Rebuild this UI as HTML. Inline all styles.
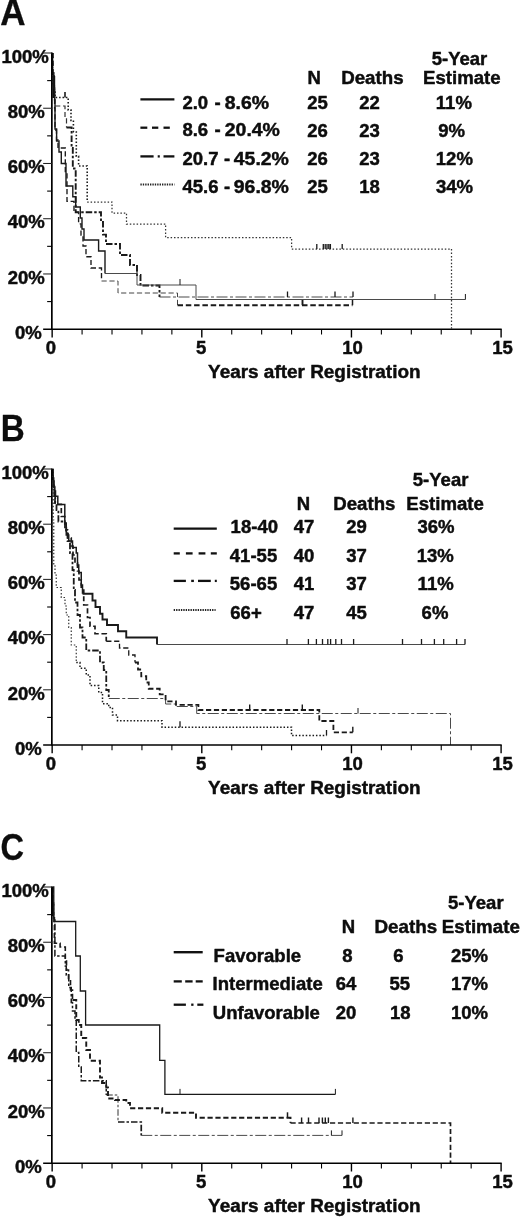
<!DOCTYPE html>
<html lang="en"><head><meta charset="utf-8"><title>Survival curves</title>
<style>html,body{margin:0;padding:0;background:#fff}svg{display:block}text{font-family:"Liberation Sans",Arial,Helvetica,sans-serif;font-weight:bold;fill:#0d0d0d;stroke:#0d0d0d;stroke-width:0.45px;stroke-linejoin:round}</style></head><body>
<svg width="520" height="1217" viewBox="0 0 520 1217">
<rect width="520" height="1217" fill="#fff"/>
<!-- panel A -->
<g id="panelA">
<text transform="translate(0.3,24.8) scale(1.0,1.03)" font-size="35" style="stroke-width:0.3px">A</text>
<text transform="translate(41.7,338.9) scale(1.03,0.99)" font-size="18" text-anchor="end" >0%</text>
<text transform="translate(44.8,283.7) scale(1.03,0.99)" font-size="18" text-anchor="end" >20%</text>
<text transform="translate(44.8,228.4) scale(1.03,0.99)" font-size="18" text-anchor="end" >40%</text>
<text transform="translate(44.8,173.2) scale(1.03,0.99)" font-size="18" text-anchor="end" >60%</text>
<text transform="translate(44.8,117.9) scale(1.03,0.99)" font-size="18" text-anchor="end" >80%</text>
<text transform="translate(48.8,62.7) scale(1.03,0.99)" font-size="18" text-anchor="end" >100%</text>
<text transform="translate(50.8,354.4) scale(1.03,0.99)" font-size="18" text-anchor="middle" >0</text>
<text transform="translate(201.2,354.4) scale(1.03,0.99)" font-size="18" text-anchor="middle" >5</text>
<text transform="translate(352.5,354.4) scale(1.03,0.99)" font-size="18" text-anchor="middle" >10</text>
<text transform="translate(502.5,354.4) scale(1.03,0.99)" font-size="18" text-anchor="middle" >15</text>
<text transform="translate(208.1,378.4) scale(1.052,0.99)" font-size="18" text-anchor="start" >Years after Registration</text>
<path d="M52.6,53H52.6V75H53.4V86H54.3V92H55V97.5H68.2V110H71V120.5H73.4V132H76.3V156.3H78.6V166H87.2V202" fill="none" stroke="#1a1a1a" stroke-width="1.6" stroke-dasharray="1.5 1.9"/>
<path d="M87.2,202H112V213H126.5V224H165.6V237.6H291.6V249H451.5V328.5" fill="none" stroke="#333" stroke-width="1.25" stroke-dasharray="1.5 1.9"/>
<path d="M65,97.5v-5.5" fill="none" stroke="#1a1a1a" stroke-width="1.6"/>
<path d="M316.8,249v-5M323.3,249v-5M325.2,249v-5M327,249v-5M328.8,249v-5M330.4,249v-5M342.2,249v-5" fill="none" stroke="#1a1a1a" stroke-width="1.3"/>

<path d="M52.8,53H52.8V74H53.5V84H54.2V95H54.8V106H65V117.7H66.5V127.5" fill="none" stroke="#333" stroke-width="1.2" stroke-dasharray="5.2 2.7"/>
<path d="M66.5,127.5H71.6V148H72.8V168.5H75.7V212.3H101V222H103V234.6H106V244H120V255H130V265H137V275H140.5V285.5H159.5V297" fill="none" stroke="#1a1a1a" stroke-width="1.9" stroke-dasharray="6.5 2 2.5 2"/>
<path d="M159.5,297H353" fill="none" stroke="#4a4a4a" stroke-width="1.05" stroke-dasharray="11 2.5 3 2.5"/>
<path d="M287.5,297v-5.5M335,297v-5.5M353,297v-5.5" fill="none" stroke="#1a1a1a" stroke-width="1.3"/>

<path d="M53,53H53V73H53.6V85H54.2V97H54.6V108H55V130H56.5V140H58V148H65.3V174H67V201.3H74V212.3H78.6V223.8H81V235H83V246H86V256.7H91V268H101.5V281" fill="none" stroke="#1a1a1a" stroke-width="1.35" stroke-dasharray="5.2 2.7"/>
<path d="M101.5,281H118V293H177.5V305.2" fill="none" stroke="#444" stroke-width="1.0" stroke-dasharray="5.2 2.7"/>
<path d="M177.5,305.2H352.5" fill="none" stroke="#1a1a1a" stroke-width="2.0" stroke-dasharray="5.5 2.8"/>
<path d="M302.5,305.2v-5.5" fill="none" stroke="#1a1a1a" stroke-width="1.9"/>
<path d="M352.5,305.2v-5.5" fill="none" stroke="#1a1a1a" stroke-width="1.5"/>

<path d="M52.4,73 L55.2,76 V98 H52.4Z" fill="#111"/>
<path d="M52.5,53H52.5V73H53.8V88H54.6V100H55V129H56.6V141H59V152H61.3V163.5H66V186H72.8V196.7H75.7V207H80.3V218H82V229H84V240H98.6V251H105V273.5" fill="none" stroke="#1a1a1a" stroke-width="1.4"/>
<path d="M105,273.5H137V285H196V299.5H465.4" fill="none" stroke="#4a4a4a" stroke-width="1.0"/>
<path d="M137,273.5v-8.5M180,285v-6M435,299.5v-5.5M465.4,299.5v-5.5" fill="none" stroke="#1a1a1a" stroke-width="1.0"/>

<line x1="51.85" y1="52.4" x2="51.85" y2="329.8" stroke="#000" stroke-width="1.7"/>
<line x1="43.15" y1="329.2" x2="501.7" y2="329.2" stroke="#000" stroke-width="1.4"/>
<line x1="47.15" y1="301.58" x2="52.15" y2="301.58" stroke="#000" stroke-width="1.1"/>
<line x1="43.15" y1="273.96" x2="52.15" y2="273.96" stroke="#222" stroke-width="1.05"/>
<line x1="47.15" y1="246.34" x2="52.15" y2="246.34" stroke="#000" stroke-width="1.1"/>
<line x1="43.15" y1="218.72" x2="52.15" y2="218.72" stroke="#222" stroke-width="1.05"/>
<line x1="47.15" y1="191.10" x2="52.15" y2="191.10" stroke="#000" stroke-width="1.1"/>
<line x1="43.15" y1="163.48" x2="52.15" y2="163.48" stroke="#222" stroke-width="1.05"/>
<line x1="47.15" y1="135.86" x2="52.15" y2="135.86" stroke="#000" stroke-width="1.1"/>
<line x1="43.15" y1="108.24" x2="52.15" y2="108.24" stroke="#222" stroke-width="1.05"/>
<line x1="47.15" y1="80.62" x2="52.15" y2="80.62" stroke="#000" stroke-width="1.1"/>
<line x1="43.15" y1="53.00" x2="52.15" y2="53.00" stroke="#222" stroke-width="1.05"/>
<line x1="52.15" y1="329.2" x2="52.15" y2="337.5" stroke="#000" stroke-width="1.4"/>
<line x1="82.08" y1="329.2" x2="82.08" y2="334.5" stroke="#000" stroke-width="1.1"/>
<line x1="112.01" y1="329.2" x2="112.01" y2="334.5" stroke="#000" stroke-width="1.1"/>
<line x1="141.94" y1="329.2" x2="141.94" y2="334.5" stroke="#000" stroke-width="1.1"/>
<line x1="171.87" y1="329.2" x2="171.87" y2="334.5" stroke="#000" stroke-width="1.1"/>
<line x1="201.80" y1="329.2" x2="201.80" y2="337.5" stroke="#000" stroke-width="1.4"/>
<line x1="231.73" y1="329.2" x2="231.73" y2="334.5" stroke="#000" stroke-width="1.1"/>
<line x1="261.66" y1="329.2" x2="261.66" y2="334.5" stroke="#000" stroke-width="1.1"/>
<line x1="291.59" y1="329.2" x2="291.59" y2="334.5" stroke="#000" stroke-width="1.1"/>
<line x1="321.52" y1="329.2" x2="321.52" y2="334.5" stroke="#000" stroke-width="1.1"/>
<line x1="351.45" y1="329.2" x2="351.45" y2="337.5" stroke="#000" stroke-width="1.4"/>
<line x1="381.38" y1="329.2" x2="381.38" y2="334.5" stroke="#000" stroke-width="1.1"/>
<line x1="411.31" y1="329.2" x2="411.31" y2="334.5" stroke="#000" stroke-width="1.1"/>
<line x1="441.24" y1="329.2" x2="441.24" y2="334.5" stroke="#000" stroke-width="1.1"/>
<line x1="471.17" y1="329.2" x2="471.17" y2="334.5" stroke="#000" stroke-width="1.1"/>
<line x1="501.10" y1="329.2" x2="501.10" y2="337.5" stroke="#000" stroke-width="1.4"/>
<line x1="140.4" y1="99.4" x2="174.4" y2="99.4" stroke="#111" stroke-width="2.4"/>
<line x1="140.4" y1="127.7" x2="147.3" y2="127.7" stroke="#111" stroke-width="2.3"/><line x1="152" y1="127.7" x2="158.3" y2="127.7" stroke="#111" stroke-width="2.3"/><line x1="163.5" y1="127.7" x2="169.8" y2="127.7" stroke="#111" stroke-width="2.3"/>
<line x1="140.4" y1="156.4" x2="153.6" y2="156.4" stroke="#111" stroke-width="2.3"/><line x1="157.7" y1="156.4" x2="159.8" y2="156.4" stroke="#111" stroke-width="2.3"/><line x1="163.5" y1="156.4" x2="174.4" y2="156.4" stroke="#111" stroke-width="2.3"/>
<line x1="140.4" y1="184.5" x2="174.4" y2="184.5" stroke="#222" stroke-width="2" stroke-dasharray="1.35 1.05"/>
<text transform="translate(182.4,108.75) scale(1.03,0.99)" font-size="18" text-anchor="start" >2.0</text><text transform="translate(214.6,108.75) scale(1.03,0.99)" font-size="18" text-anchor="start" >-</text><text transform="translate(224.8,108.75) scale(1.08,0.99)" font-size="18" text-anchor="start" >8.6%</text>
<text transform="translate(182.4,136.25) scale(1.03,0.99)" font-size="18" text-anchor="start" >8.6</text><text transform="translate(214.6,136.25) scale(1.03,0.99)" font-size="18" text-anchor="start" >-</text><text transform="translate(224.8,136.25) scale(1.08,0.99)" font-size="18" text-anchor="start" >20.4%</text>
<text transform="translate(182.4,164.5) scale(1.03,0.99)" font-size="18" text-anchor="start" >20.7</text><text transform="translate(224,164.5) scale(1.03,0.99)" font-size="18" text-anchor="start" >-</text><text transform="translate(233.8,164.5) scale(1.08,0.99)" font-size="18" text-anchor="start" >45.2%</text>
<text transform="translate(182.4,192.5) scale(1.03,0.99)" font-size="18" text-anchor="start" >45.6</text><text transform="translate(224,192.5) scale(1.03,0.99)" font-size="18" text-anchor="start" >-</text><text transform="translate(233.8,192.5) scale(1.08,0.99)" font-size="18" text-anchor="start" >96.8%</text>
<text transform="translate(307.4,84) scale(1.03,0.99)" font-size="18" text-anchor="start" >N</text>
<text transform="translate(341.2,84) scale(1.04,0.99)" font-size="18" text-anchor="start" >Deaths</text>
<text transform="translate(431.7,65.4) scale(1.03,0.99)" font-size="18" text-anchor="start" >5-Year</text>
<text transform="translate(423,84) scale(1.035,0.99)" font-size="18" text-anchor="start" >Estimate</text>
<text transform="translate(307.2,108.75) scale(1.03,0.99)" font-size="18" text-anchor="start" >25</text>
<text transform="translate(359.2,108.75) scale(1.03,0.99)" font-size="18" text-anchor="start" >22</text>
<text transform="translate(435.8,108.75) scale(1.03,0.99)" font-size="18" text-anchor="start" >11%</text>
<text transform="translate(307.2,136.6) scale(1.03,0.99)" font-size="18" text-anchor="start" >26</text>
<text transform="translate(359.2,136.6) scale(1.03,0.99)" font-size="18" text-anchor="start" >23</text>
<text transform="translate(438.2,136.6) scale(1.03,0.99)" font-size="18" text-anchor="start" >9%</text>
<text transform="translate(307.2,164.5) scale(1.03,0.99)" font-size="18" text-anchor="start" >26</text>
<text transform="translate(359.2,164.5) scale(1.03,0.99)" font-size="18" text-anchor="start" >23</text>
<text transform="translate(435.8,164.5) scale(1.03,0.99)" font-size="18" text-anchor="start" >12%</text>
<text transform="translate(307.2,192.5) scale(1.03,0.99)" font-size="18" text-anchor="start" >25</text>
<text transform="translate(359.2,192.5) scale(1.03,0.99)" font-size="18" text-anchor="start" >18</text>
<text transform="translate(436,192.5) scale(1.03,0.99)" font-size="18" text-anchor="start" >34%</text>
</g>
<!-- panel B -->
<g id="panelB">
<text transform="translate(0.7,440.5) scale(0.95,1.03)" font-size="35" style="stroke-width:0.3px">B</text>
<text transform="translate(41.7,754.7) scale(1.03,0.99)" font-size="18" text-anchor="end" >0%</text>
<text transform="translate(44.8,699.5) scale(1.03,0.99)" font-size="18" text-anchor="end" >20%</text>
<text transform="translate(44.8,644.3) scale(1.03,0.99)" font-size="18" text-anchor="end" >40%</text>
<text transform="translate(44.8,589.1) scale(1.03,0.99)" font-size="18" text-anchor="end" >60%</text>
<text transform="translate(44.8,533.9) scale(1.03,0.99)" font-size="18" text-anchor="end" >80%</text>
<text transform="translate(48.8,478.7) scale(1.03,0.99)" font-size="18" text-anchor="end" >100%</text>
<text transform="translate(50.8,770.2) scale(1.03,0.99)" font-size="18" text-anchor="middle" >0</text>
<text transform="translate(201.2,770.2) scale(1.03,0.99)" font-size="18" text-anchor="middle" >5</text>
<text transform="translate(352.5,770.2) scale(1.03,0.99)" font-size="18" text-anchor="middle" >10</text>
<text transform="translate(502.5,770.2) scale(1.03,0.99)" font-size="18" text-anchor="middle" >15</text>
<text transform="translate(208.1,794.2) scale(1.052,0.99)" font-size="18" text-anchor="start" >Years after Registration</text>
<path d="M52.6,469H53.2V520H53.75V565H55V575H56.25V587.5H61.25V597.5H65V606H66.25V615H68.75V627.5H71.25V645H76.25V662.5" fill="none" stroke="#333" stroke-width="1.2" stroke-dasharray="1.5 1.9"/>
<path d="M76.25,662.5H80V668.25H86.25V675H90V685.5H98.75V692.5H102.5V703.75H108.75V707.5H112.5V715H117.5V720.7H162V727.2H291.5V735.6H326.5" fill="none" stroke="#1a1a1a" stroke-width="1.5" stroke-dasharray="1.5 1.9"/>
<path d="M180,727.2v-6M326.5,735.6v-5.5" fill="none" stroke="#1a1a1a" stroke-width="1.3"/>

<path d="M52.7,469H52.7V480H53.5V488H54.3V496H55.2V503H56.5V510H58.4V521.5H65V530H67.5V541H70V553H72.5V570H73.75V590H75V602.5H77.5V615H80V627.5H82.5V637.5H86.25V650.5H100V662.5H103.75V670H106.25V690H108.75V698.5" fill="none" stroke="#1a1a1a" stroke-width="1.8" stroke-dasharray="6.5 2 2.5 2"/>
<path d="M108.75,698.5H165.6V704H176V706.5H196.7V713.5H450.5V745" fill="none" stroke="#4a4a4a" stroke-width="1.0" stroke-dasharray="11 2.5 3 2.5"/>
<path d="M358,713.5v-5.5" fill="none" stroke="#1a1a1a" stroke-width="1.0"/>

<path d="M52.9,469H52.9V478H53.6V486H54.3V493H55V504.4H61.3V516.5H64.8V524H66.3V531H68V538H71.25V546H73V555H75V563H77.5V571H79V580H81.25V590H83.75V605H87.5V617.5H90V626.25H95V633.75H106.25V641.25" fill="none" stroke="#1a1a1a" stroke-width="1.7" stroke-dasharray="5.2 2.7"/>
<path d="M106.25,641.25H119.5V648H128.75V655H135V662.5" fill="none" stroke="#1a1a1a" stroke-width="1.3" stroke-dasharray="5.2 2.7"/>
<path d="M135,662.5H138V669.5H141.25V676.25H146.25V682.5H148.75V688.75H159.7V694.4H165.6V701.3H176V704.8H198.4V710H319.3V721H333.4V732.3H352.8" fill="none" stroke="#1a1a1a" stroke-width="1.8" stroke-dasharray="5.2 2.7"/>
<path d="M249.7,710v-5.5M302.3,710v-5.5M352.8,732.3v-5.5" fill="none" stroke="#1a1a1a" stroke-width="1.4"/>

<path d="M52.5,469H52.5V475H53.2V481H54V487H54.8V491H55.5V496.3H57.8V504.4H64.8V523H66.25V535H68.75V541H72.5V547.5H76.25V553H77.5V565H78.75V572.5H81.25V585H82.5V593.75" fill="none" stroke="#1a1a1a" stroke-width="1.5"/>
<path d="M82.5,593.75H92.5V600.5H95.5V607H100V613.75H102.5V619.5H107V625H118V631.25H126.25V637.5H157V644.5" fill="none" stroke="#1a1a1a" stroke-width="1.9"/>
<path d="M157,644.5H465" fill="none" stroke="#4a4a4a" stroke-width="1.0"/>
<path d="M287,644.5v-5.5M308.4,644.5v-5.5M316.4,644.5v-5.5M322.5,644.5v-5.5M327.8,644.5v-5.5M330.6,644.5v-5.5M335.8,644.5v-5.5M341.5,644.5v-5.5M353.6,644.5v-5.5M402.5,644.5v-5.5M421.5,644.5v-5.5M434.4,644.5v-5.5M443.7,644.5v-5.5M456.6,644.5v-5.5M465,644.5v-5.5" fill="none" stroke="#1a1a1a" stroke-width="1.3"/>

<line x1="51.85" y1="468.4" x2="51.85" y2="745.6" stroke="#000" stroke-width="1.7"/>
<line x1="43.15" y1="745" x2="501.7" y2="745" stroke="#000" stroke-width="1.4"/>
<line x1="47.15" y1="717.40" x2="52.15" y2="717.40" stroke="#000" stroke-width="1.1"/>
<line x1="43.15" y1="689.80" x2="52.15" y2="689.80" stroke="#222" stroke-width="1.05"/>
<line x1="47.15" y1="662.20" x2="52.15" y2="662.20" stroke="#000" stroke-width="1.1"/>
<line x1="43.15" y1="634.60" x2="52.15" y2="634.60" stroke="#222" stroke-width="1.05"/>
<line x1="47.15" y1="607.00" x2="52.15" y2="607.00" stroke="#000" stroke-width="1.1"/>
<line x1="43.15" y1="579.40" x2="52.15" y2="579.40" stroke="#222" stroke-width="1.05"/>
<line x1="47.15" y1="551.80" x2="52.15" y2="551.80" stroke="#000" stroke-width="1.1"/>
<line x1="43.15" y1="524.20" x2="52.15" y2="524.20" stroke="#222" stroke-width="1.05"/>
<line x1="47.15" y1="496.60" x2="52.15" y2="496.60" stroke="#000" stroke-width="1.1"/>
<line x1="43.15" y1="469.00" x2="52.15" y2="469.00" stroke="#222" stroke-width="1.05"/>
<line x1="52.15" y1="745" x2="52.15" y2="753.3" stroke="#000" stroke-width="1.4"/>
<line x1="82.08" y1="745" x2="82.08" y2="750.3" stroke="#000" stroke-width="1.1"/>
<line x1="112.01" y1="745" x2="112.01" y2="750.3" stroke="#000" stroke-width="1.1"/>
<line x1="141.94" y1="745" x2="141.94" y2="750.3" stroke="#000" stroke-width="1.1"/>
<line x1="171.87" y1="745" x2="171.87" y2="750.3" stroke="#000" stroke-width="1.1"/>
<line x1="201.80" y1="745" x2="201.80" y2="753.3" stroke="#000" stroke-width="1.4"/>
<line x1="231.73" y1="745" x2="231.73" y2="750.3" stroke="#000" stroke-width="1.1"/>
<line x1="261.66" y1="745" x2="261.66" y2="750.3" stroke="#000" stroke-width="1.1"/>
<line x1="291.59" y1="745" x2="291.59" y2="750.3" stroke="#000" stroke-width="1.1"/>
<line x1="321.52" y1="745" x2="321.52" y2="750.3" stroke="#000" stroke-width="1.1"/>
<line x1="351.45" y1="745" x2="351.45" y2="753.3" stroke="#000" stroke-width="1.4"/>
<line x1="381.38" y1="745" x2="381.38" y2="750.3" stroke="#000" stroke-width="1.1"/>
<line x1="411.31" y1="745" x2="411.31" y2="750.3" stroke="#000" stroke-width="1.1"/>
<line x1="441.24" y1="745" x2="441.24" y2="750.3" stroke="#000" stroke-width="1.1"/>
<line x1="471.17" y1="745" x2="471.17" y2="750.3" stroke="#000" stroke-width="1.1"/>
<line x1="501.10" y1="745" x2="501.10" y2="753.3" stroke="#000" stroke-width="1.4"/>
<line x1="173.7" y1="528.6" x2="216.8" y2="528.6" stroke="#111" stroke-width="2.4"/>
<line x1="173.7" y1="553.4" x2="179.8" y2="553.4" stroke="#111" stroke-width="2.3"/><line x1="185.9" y1="553.4" x2="192.6" y2="553.4" stroke="#111" stroke-width="2.3"/><line x1="198.6" y1="553.4" x2="205.4" y2="553.4" stroke="#111" stroke-width="2.3"/><line x1="210.8" y1="553.4" x2="216.8" y2="553.4" stroke="#111" stroke-width="2.3"/>
<line x1="173.7" y1="580.9" x2="185.9" y2="580.9" stroke="#111" stroke-width="2.3"/><line x1="191.2" y1="580.9" x2="193.9" y2="580.9" stroke="#111" stroke-width="2.3"/><line x1="198" y1="580.9" x2="210.8" y2="580.9" stroke="#111" stroke-width="2.3"/><line x1="214.8" y1="580.9" x2="216.8" y2="580.9" stroke="#111" stroke-width="2.3"/>
<line x1="173.7" y1="609.9" x2="215.6" y2="609.9" stroke="#222" stroke-width="2" stroke-dasharray="1.35 1.05"/>
<text transform="translate(230.6,533.3) scale(1.03,0.99)" font-size="18" text-anchor="start" >18-40</text>
<text transform="translate(293.8,533.3) scale(1.03,0.99)" font-size="18" text-anchor="start" >47</text>
<text transform="translate(346.3,533.3) scale(1.03,0.99)" font-size="18" text-anchor="start" >29</text>
<text transform="translate(417.4,533.3) scale(1.03,0.99)" font-size="18" text-anchor="start" >36%</text>
<text transform="translate(229.8,562) scale(1.03,0.99)" font-size="18" text-anchor="start" >41-55</text>
<text transform="translate(293.8,562) scale(1.03,0.99)" font-size="18" text-anchor="start" >40</text>
<text transform="translate(346.3,562) scale(1.03,0.99)" font-size="18" text-anchor="start" >37</text>
<text transform="translate(416.7,562) scale(1.03,0.99)" font-size="18" text-anchor="start" >13%</text>
<text transform="translate(229.8,590) scale(1.03,0.99)" font-size="18" text-anchor="start" >56-65</text>
<text transform="translate(293.8,590) scale(1.03,0.99)" font-size="18" text-anchor="start" >41</text>
<text transform="translate(346.3,590) scale(1.03,0.99)" font-size="18" text-anchor="start" >37</text>
<text transform="translate(417.6,590) scale(1.03,0.99)" font-size="18" text-anchor="start" >11%</text>
<text transform="translate(230.3,619.2) scale(1.03,0.99)" font-size="18" text-anchor="start" >66+</text>
<text transform="translate(293.8,619.2) scale(1.03,0.99)" font-size="18" text-anchor="start" >47</text>
<text transform="translate(346.3,619.2) scale(1.03,0.99)" font-size="18" text-anchor="start" >45</text>
<text transform="translate(421.6,619.2) scale(1.03,0.99)" font-size="18" text-anchor="start" >6%</text>
<text transform="translate(296.8,509.7) scale(1.03,0.99)" font-size="18" text-anchor="start" >N</text>
<text transform="translate(333.3,510) scale(1.035,0.99)" font-size="18" text-anchor="start" >Deaths</text>
<text transform="translate(412.8,486) scale(1.03,0.99)" font-size="18" text-anchor="start" >5-Year</text>
<text transform="translate(406.3,510.2) scale(1.035,0.99)" font-size="18" text-anchor="start" >Estimate</text>
</g>
<!-- panel C -->
<g id="panelC">
<text transform="translate(0.4,859.6) scale(0.93,1.03)" font-size="35" style="stroke-width:0.3px">C</text>
<text transform="translate(41.7,1172.9) scale(1.03,0.99)" font-size="18" text-anchor="end" >0%</text>
<text transform="translate(44.8,1117.7) scale(1.03,0.99)" font-size="18" text-anchor="end" >20%</text>
<text transform="translate(44.8,1062.4) scale(1.03,0.99)" font-size="18" text-anchor="end" >40%</text>
<text transform="translate(44.8,1007.2) scale(1.03,0.99)" font-size="18" text-anchor="end" >60%</text>
<text transform="translate(44.8,951.9) scale(1.03,0.99)" font-size="18" text-anchor="end" >80%</text>
<text transform="translate(48.8,896.7) scale(1.03,0.99)" font-size="18" text-anchor="end" >100%</text>
<text transform="translate(50.8,1188.4) scale(1.03,0.99)" font-size="18" text-anchor="middle" >0</text>
<text transform="translate(201.2,1188.4) scale(1.03,0.99)" font-size="18" text-anchor="middle" >5</text>
<text transform="translate(352.5,1188.4) scale(1.03,0.99)" font-size="18" text-anchor="middle" >10</text>
<text transform="translate(502.5,1188.4) scale(1.03,0.99)" font-size="18" text-anchor="middle" >15</text>
<text transform="translate(208.1,1212.4) scale(1.052,0.99)" font-size="18" text-anchor="start" >Years after Registration</text>
<path d="M52.7,887H52.7V905H53.6V918H54.9V956.1H65.3V966H66.25V975H68.75V987.5H71.25V1002.5H72.5V1011H75V1020H76.25V1052.5H78.75V1067H81.25V1080.8H106.25V1095" fill="none" stroke="#1a1a1a" stroke-width="1.5" stroke-dasharray="6.5 2 2.5 2"/>
<path d="M106.25,1095H118V1122" fill="none" stroke="#333" stroke-width="1.0" stroke-dasharray="6.5 2 2.5 2"/>
<path d="M118,1122H141.25V1135.4" fill="none" stroke="#1a1a1a" stroke-width="1.7" stroke-dasharray="6.5 2 2.5 2"/>
<path d="M141.25,1135.4H342" fill="none" stroke="#4a4a4a" stroke-width="1.0" stroke-dasharray="11 2.5 3 2.5"/>
<path d="M331.4,1135.4v-5M342,1135.4v-5" fill="none" stroke="#1a1a1a" stroke-width="1.0"/>

<path d="M52.9,887H52.9V900H53.5V915H54.4V943.2H60.1V947H65.3V960H66.5V970H68.5V980H70.5V990H72.5V1000" fill="none" stroke="#1a1a1a" stroke-width="1.6" stroke-dasharray="5.2 2.7"/>
<path d="M72.5,1000H76.25V1020H78.75V1025H81.25V1038H86.25V1050H90V1060.75H100V1077.5H102V1083H106.25V1087.5H108V1098.5H115V1100H126.25V1103H130V1108.3H162.2V1112.7H196V1117.8H290.5V1123" fill="none" stroke="#1a1a1a" stroke-width="1.9" stroke-dasharray="5.2 2.7"/>
<path d="M290.5,1123H450.5V1163.2" fill="none" stroke="#1a1a1a" stroke-width="1.7" stroke-dasharray="5.2 2.7"/>
<path d="M287.5,1117.8v-5.5" fill="none" stroke="#1a1a1a" stroke-width="1.5"/>
<path d="M301.6,1123v-5.5M308.5,1123v-5.5M319,1123v-5.5M322.4,1123v-5.5M325.3,1123v-5.5M328.4,1123v-5.5M352.9,1123v-5.5" fill="none" stroke="#1a1a1a" stroke-width="1.4"/>

<path d="M51.6,887 H53.5 V916 H51.6Z" fill="#111"/>
<path d="M52.5,887H53.8V921.5H75.7V956H80.3V991H85.6V1025H159.7V1060.3H164.9V1094.4H335.4" fill="none" stroke="#1a1a1a" stroke-width="1.3"/>
<path d="M180,1094.4v-5.5M335.4,1094.4v-5.5" fill="none" stroke="#1a1a1a" stroke-width="1.0"/>

<line x1="51.85" y1="886.4" x2="51.85" y2="1163.8" stroke="#000" stroke-width="1.7"/>
<line x1="43.15" y1="1163.2" x2="501.7" y2="1163.2" stroke="#000" stroke-width="1.4"/>
<line x1="47.15" y1="1135.58" x2="52.15" y2="1135.58" stroke="#000" stroke-width="1.1"/>
<line x1="43.15" y1="1107.96" x2="52.15" y2="1107.96" stroke="#222" stroke-width="1.05"/>
<line x1="47.15" y1="1080.34" x2="52.15" y2="1080.34" stroke="#000" stroke-width="1.1"/>
<line x1="43.15" y1="1052.72" x2="52.15" y2="1052.72" stroke="#222" stroke-width="1.05"/>
<line x1="47.15" y1="1025.10" x2="52.15" y2="1025.10" stroke="#000" stroke-width="1.1"/>
<line x1="43.15" y1="997.48" x2="52.15" y2="997.48" stroke="#222" stroke-width="1.05"/>
<line x1="47.15" y1="969.86" x2="52.15" y2="969.86" stroke="#000" stroke-width="1.1"/>
<line x1="43.15" y1="942.24" x2="52.15" y2="942.24" stroke="#222" stroke-width="1.05"/>
<line x1="47.15" y1="914.62" x2="52.15" y2="914.62" stroke="#000" stroke-width="1.1"/>
<line x1="43.15" y1="887.00" x2="52.15" y2="887.00" stroke="#222" stroke-width="1.05"/>
<line x1="52.15" y1="1163.2" x2="52.15" y2="1171.5" stroke="#000" stroke-width="1.4"/>
<line x1="82.08" y1="1163.2" x2="82.08" y2="1168.5" stroke="#000" stroke-width="1.1"/>
<line x1="112.01" y1="1163.2" x2="112.01" y2="1168.5" stroke="#000" stroke-width="1.1"/>
<line x1="141.94" y1="1163.2" x2="141.94" y2="1168.5" stroke="#000" stroke-width="1.1"/>
<line x1="171.87" y1="1163.2" x2="171.87" y2="1168.5" stroke="#000" stroke-width="1.1"/>
<line x1="201.80" y1="1163.2" x2="201.80" y2="1171.5" stroke="#000" stroke-width="1.4"/>
<line x1="231.73" y1="1163.2" x2="231.73" y2="1168.5" stroke="#000" stroke-width="1.1"/>
<line x1="261.66" y1="1163.2" x2="261.66" y2="1168.5" stroke="#000" stroke-width="1.1"/>
<line x1="291.59" y1="1163.2" x2="291.59" y2="1168.5" stroke="#000" stroke-width="1.1"/>
<line x1="321.52" y1="1163.2" x2="321.52" y2="1168.5" stroke="#000" stroke-width="1.1"/>
<line x1="351.45" y1="1163.2" x2="351.45" y2="1171.5" stroke="#000" stroke-width="1.4"/>
<line x1="381.38" y1="1163.2" x2="381.38" y2="1168.5" stroke="#000" stroke-width="1.1"/>
<line x1="411.31" y1="1163.2" x2="411.31" y2="1168.5" stroke="#000" stroke-width="1.1"/>
<line x1="441.24" y1="1163.2" x2="441.24" y2="1168.5" stroke="#000" stroke-width="1.1"/>
<line x1="471.17" y1="1163.2" x2="471.17" y2="1168.5" stroke="#000" stroke-width="1.1"/>
<line x1="501.10" y1="1163.2" x2="501.10" y2="1171.5" stroke="#000" stroke-width="1.4"/>
<line x1="173.7" y1="952.2" x2="202.7" y2="952.2" stroke="#111" stroke-width="2.4"/>
<line x1="173.7" y1="981.4" x2="181.8" y2="981.4" stroke="#111" stroke-width="2.3"/><line x1="185.2" y1="981.4" x2="192.6" y2="981.4" stroke="#111" stroke-width="2.3"/><line x1="195.7" y1="981.4" x2="202.7" y2="981.4" stroke="#111" stroke-width="2.3"/>
<line x1="173.7" y1="1004.7" x2="185.9" y2="1004.7" stroke="#111" stroke-width="2.3"/><line x1="191.2" y1="1004.7" x2="193.5" y2="1004.7" stroke="#111" stroke-width="2.3"/><line x1="197.3" y1="1004.7" x2="203.4" y2="1004.7" stroke="#111" stroke-width="2.3"/>
<text transform="translate(213.6,961.6) scale(1.03,0.99)" font-size="18" text-anchor="start" >Favorable</text>
<text transform="translate(342.3,961.6) scale(1.03,0.99)" font-size="18" text-anchor="start" >8</text>
<text transform="translate(393.2,961.6) scale(1.03,0.99)" font-size="18" text-anchor="start" >6</text>
<text transform="translate(451,961.6) scale(1.03,0.99)" font-size="18" text-anchor="start" >25%</text>
<text transform="translate(212.6,989.6) scale(1.03,0.99)" font-size="18" text-anchor="start" >Intermediate</text>
<text transform="translate(335.8,989.6) scale(1.03,0.99)" font-size="18" text-anchor="start" >64</text>
<text transform="translate(389.5,989.6) scale(1.03,0.99)" font-size="18" text-anchor="start" >55</text>
<text transform="translate(451,989.6) scale(1.03,0.99)" font-size="18" text-anchor="start" >17%</text>
<text transform="translate(212.8,1018.9) scale(1.03,0.99)" font-size="18" text-anchor="start" >Unfavorable</text>
<text transform="translate(335.8,1018.9) scale(1.03,0.99)" font-size="18" text-anchor="start" >20</text>
<text transform="translate(390,1018.9) scale(1.03,0.99)" font-size="18" text-anchor="start" >18</text>
<text transform="translate(451,1018.9) scale(1.03,0.99)" font-size="18" text-anchor="start" >10%</text>
<text transform="translate(341.8,932.6) scale(1.03,0.99)" font-size="18" text-anchor="start" >N</text>
<text transform="translate(374.5,932.6) scale(1.045,0.99)" font-size="18" text-anchor="start" >Deaths</text>
<text transform="translate(448,909.4) scale(1.03,0.99)" font-size="18" text-anchor="start" >5-Year</text>
<text transform="translate(441.8,932.6) scale(1.04,0.99)" font-size="18" text-anchor="start" >Estimate</text>
</g>
</svg></body></html>
